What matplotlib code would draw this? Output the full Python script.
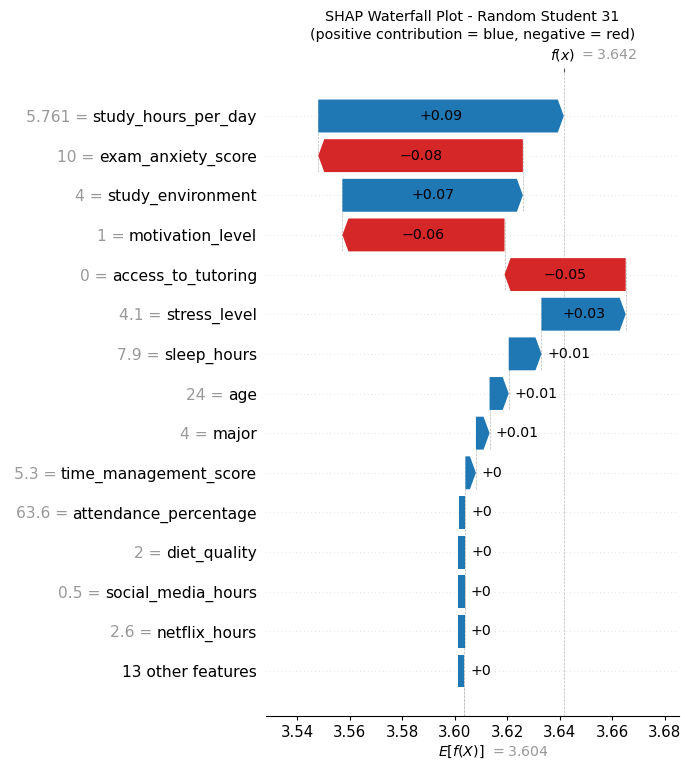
import matplotlib
matplotlib.use("Agg")
import matplotlib.pyplot as plt
from matplotlib.patches import Polygon
import matplotlib.transforms as mtransforms
import numpy as np

# ---------------- data (top row first) ----------------
feature_names = ["study_hours_per_day", "exam_anxiety_score", "study_environment",
                 "motivation_level", "access_to_tutoring", "stress_level", "sleep_hours",
                 "age", "major", "time_management_score", "attendance_percentage",
                 "diet_quality", "social_media_hours", "netflix_hours"]
feature_values = ["5.761", "10", "4", "1", "0", "4.1", "7.9", "24", "4", "5.3",
                  "63.6", "2", "0.5", "2.6"]
shap_values = [0.0936, -0.0780, 0.0688, -0.0618, -0.0462, 0.0321, 0.0125, 0.0073,
               0.0052, 0.0040, 0.0001, 0.0001, 0.0001, 0.0001]
other_label = "13 other features"
other_value = 0.0001
base_value = 3.6036
x_ticks = [3.54, 3.56, 3.58, 3.60, 3.62, 3.64, 3.66, 3.68]
title = "SHAP Waterfall Plot - Random Student 31\n(positive contribution = blue, negative = red)"

BLUE = "#1f77b4"
RED = "#d62728"
GRAY = "#999999"

W, H = 681, 763
fig = plt.figure(figsize=(W / 100, H / 100), dpi=100)
ax_left, ax_right, ax_top, ax_bot = 266, 679, 72, 716
ax = fig.add_axes([ax_left / W, 1 - ax_bot / H, (ax_right - ax_left) / W, (ax_bot - ax_top) / H])

# bottom-to-top ordering
vals_bt = np.array([other_value] + shap_values[::-1])
names_bt = [other_label] + feature_names[::-1]
fvals_bt = [""] + feature_values[::-1]
n = len(vals_bt)
rows = np.arange(n)
starts = base_value + np.concatenate([[0.0], np.cumsum(vals_bt)[:-1]])
ends = starts + vals_bt
fx = ends[-1]

xmin, xmax = 3.52807, 3.68552
ax.set_xlim(xmin, xmax)
ax.set_ylim(-1.135, n - 1 + 1.11)

px_per_unit = (ax_right - ax_left) / (xmax - xmin)
hl = 6.0 / px_per_unit
bar_h = 0.83
h2 = bar_h / 2

# grid lines per row
for y in rows:
    ax.axhline(y, color="#cccccc", lw=0.5, dashes=(1, 4.4), zorder=-1)

# vertical lines
ax.axvline(base_value, 0, 1 / n, color="#bbbbbb", ls="--", lw=0.5, zorder=-1)
ax.axvline(fx, 0, 1, color="#bbbbbb", ls="--", lw=0.5, zorder=-1)
for y, s in zip(rows, starts):
    ax.plot([s, s], [y - 1 - 0.4, y + 0.4], color="#bbbbbb", ls="--", lw=0.5, zorder=-1)


def fmt(v):
    s = f"{v:+.2f}".rstrip("0").rstrip(".")
    return s.replace("-", "\u2212")


# y tick labels: black feature names
ax.set_yticks(rows)
ax.set_yticklabels(names_bt, fontsize=11.2)
ax.tick_params(axis="y", length=0, pad=6.5)

ax.set_xticks(x_ticks)
ax.set_xticklabels([f"{t:.2f}" for t in x_ticks], fontsize=10.8)
ax.tick_params(axis="x", length=2.8, width=0.8, pad=4)
for sp in ["left", "right", "top"]:
    ax.spines[sp].set_visible(False)
ax.spines["bottom"].set_linewidth(0.8)

fig.canvas.draw()
renderer = fig.canvas.get_renderer()

for y, s, e, v in zip(rows, starts, ends, vals_bt):
    color = BLUE if v >= 0 else RED
    w = abs(v)
    if w < hl:
        mw = hl * 1.12
        if v >= 0:
            pts = [(e - mw, y - h2), (e, y - h2), (e, y + h2), (e - mw, y + h2)]
        else:
            pts = [(e + mw, y - h2), (e, y - h2), (e, y + h2), (e + mw, y + h2)]
    elif v >= 0:
        pts = [(s, y - h2), (e - hl, y - h2), (e, y), (e - hl, y + h2), (s, y + h2)]
    else:
        pts = [(s, y - h2), (e + hl, y - h2), (e, y), (e + hl, y + h2), (s, y + h2)]
    ax.add_patch(Polygon(pts, closed=True, facecolor=color, edgecolor="none", zorder=2))

    label = fmt(v)
    t = ax.text((s + e) / 2, y, label, ha="center", va="center", fontsize=10.2,
                color="black", zorder=3)
    tw = t.get_window_extent(renderer=renderer).width
    if tw + 4 > w * px_per_unit:
        t.remove()
        off = 6.0 / px_per_unit
        if v >= 0:
            ax.text(e + off, y, label, ha="left", va="center", fontsize=10.2, color="black", zorder=3)
        else:
            ax.text(e - off, y, label, ha="right", va="center", fontsize=10.2, color="black", zorder=3)

# gray "value =" prefixes placed just left of each black feature name
for lab, fv, y in zip(ax.get_yticklabels(), fvals_bt, rows):
    if not fv:
        continue
    bb = lab.get_window_extent(renderer=renderer)
    ydisp = ax.transData.transform((0, y))[1]
    fig.text(bb.x0 - 4.5, ydisp, f"{fv} =", transform=mtransforms.IdentityTransform(),
             ha="right", va="center_baseline", fontsize=11.2, color=GRAY)

# top tick at f(x)
axt = ax.twiny()
axt.set_xlim(xmin, xmax)
axt.set_xticks([fx])
axt.set_xticklabels([""])
axt.tick_params(axis="x", length=3.2, width=0.8, color="#555555")
for sp in axt.spines.values():
    sp.set_visible(False)

top_tr = mtransforms.blended_transform_factory(ax.transData, ax.transAxes)
ax.text(fx, 1, "$f(x)$", transform=mtransforms.offset_copy(top_tr, fig=fig, x=-1, y=17, units="dots"),
        ha="center", va="center", fontsize=10.2, color="black")
ax.text(fx, 1, f"$= {fx:.3f}$", transform=mtransforms.offset_copy(top_tr, fig=fig, x=15, y=17, units="dots"),
        ha="left", va="center", fontsize=10.2, color=GRAY)
ax.text(base_value, 0, "$E[f(X)]$", transform=mtransforms.offset_copy(top_tr, fig=fig, x=-3, y=-36, units="dots"),
        ha="center", va="center", fontsize=10.2, color="black")
ax.text(base_value, 0, f"$= {base_value:.3f}$", transform=mtransforms.offset_copy(top_tr, fig=fig, x=26, y=-36, units="dots"),
        ha="left", va="center", fontsize=10.2, color=GRAY)

fig.text((ax_left + ax_right) / 2 / W, 1 - 42 / H, title, ha="center", va="bottom",
         fontsize=10.3, multialignment="center", linespacing=1.4)

fig.savefig("out.png", dpi=100)
